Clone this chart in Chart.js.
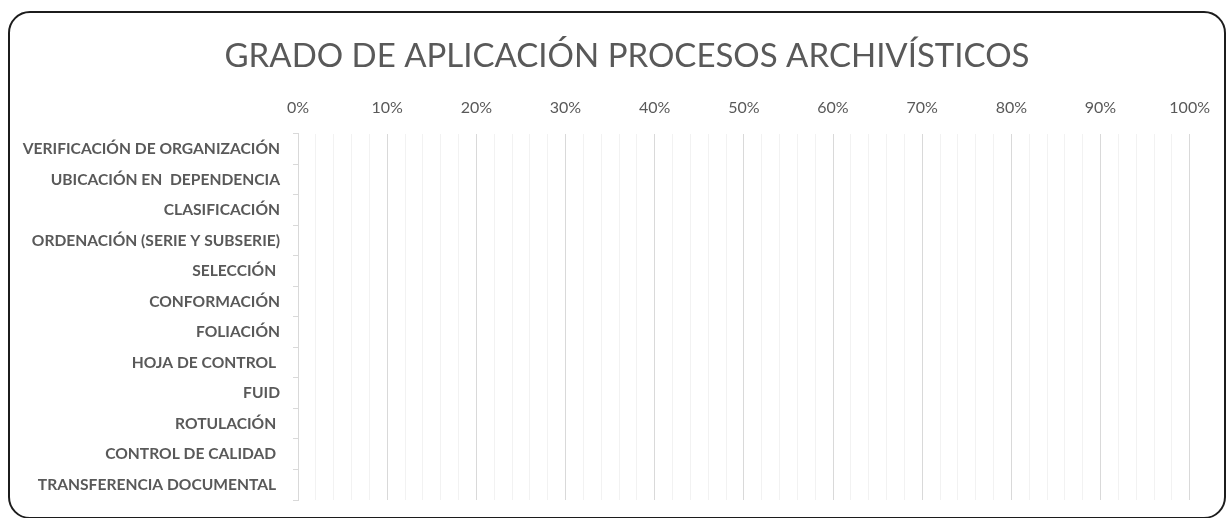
<!DOCTYPE html>
<html>
<head>
<meta charset="utf-8">
<script src="https://cdn.jsdelivr.net/npm/chart.js@4.4.0/dist/chart.umd.min.js"></script>
<style>
  html, body { margin: 0; padding: 0; background: #fff; overflow: hidden; }
  #wrap { position: relative; width: 1226px; height: 518px; overflow: hidden; }
  #frame { position: absolute; left: 8px; top: 11px; width: 1214px; height: 504px; border: 2px solid #1c1c1c; border-radius: 22px; pointer-events: none; }
</style>
</head>
<body>
<div id="wrap">
  <canvas id="chart" width="1226" height="518"></canvas>
  <div id="frame"></div>
</div>
<script>
const chartTitle = 'GRADO DE APLICACIÓN PROCESOS ARCHIVÍSTICOS';
const categories = [
  'VERIFICACIÓN DE ORGANIZACIÓN',
  'UBICACIÓN EN  DEPENDENCIA',
  'CLASIFICACIÓN',
  'ORDENACIÓN (SERIE Y SUBSERIE)',
  'SELECCIÓN ',
  'CONFORMACIÓN',
  'FOLIACIÓN',
  'HOJA DE CONTROL ',
  'FUID',
  'ROTULACIÓN ',
  'CONTROL DE CALIDAD ',
  'TRANSFERENCIA DOCUMENTAL '
];
// no bar is drawn in the picture: every process is at 0%
const applied = [0, 0, 0, 0, 0, 0, 0, 0, 0, 0, 0, 0];
const tickMin = 0;
const tickMax = 100;
const tickStep = 2;

const grey = '#595959';

// Excel centres the title over the whole box, not over canvas minus right padding
const titleShift = {
  id: 'titleShift',
  afterLayout(chart) {
    if (chart.titleBlock) chart.titleBlock.left += 64;
  }
};

new Chart(document.getElementById('chart'), {
  type: 'bar',
  data: {
    labels: categories,
    datasets: [{ label: 'Grado', data: applied, backgroundColor: '#4472c4', borderWidth: 0 }]
  },
  options: {
    indexAxis: 'y',
    responsive: false,
    animation: false,
    layout: { padding: { left: 0, right: 36, top: 0, bottom: 18 } },
    plugins: {
      legend: { display: false },
      tooltip: { enabled: false },
      title: {
        display: true,
        text: chartTitle,
        color: grey,
        font: { family: 'Lato', size: 33, weight: 'normal' },
        padding: { top: 37, bottom: 6 }
      }
    },
    scales: {
      x: {
        position: 'top',
        min: tickMin,
        max: tickMax,
        border: { display: false },
        grid: {
          drawTicks: false,
          color: c => (c.tick && c.tick.value % 10 === 0) ? '#d9d9d9' : '#f2f2f2'
        },
        ticks: {
          stepSize: tickStep,
          autoSkip: false,
          maxRotation: 0,
          padding: 16,
          color: grey,
          font: { family: 'Lato', size: 16 },
          callback: v => (v % 10 === 0 ? v + '%' : '')
        }
      },
      y: {
        border: { display: true, color: '#d9d9d9' },
        grid: { offset: true, drawOnChartArea: false, tickLength: 5, color: '#d9d9d9' },
        afterFit: s => {
          s.width = 298;
          // the label padding would otherwise eat into the bottom of the plot
          s.paddingTop = 0;
          s.paddingBottom = 0;
        },
        ticks: {
          padding: 13,
          color: grey,
          font: { family: 'Lato', size: 15.6, weight: 'bold' }
        }
      }
    }
  },
  plugins: [titleShift]
});
</script>
</body>
</html>
